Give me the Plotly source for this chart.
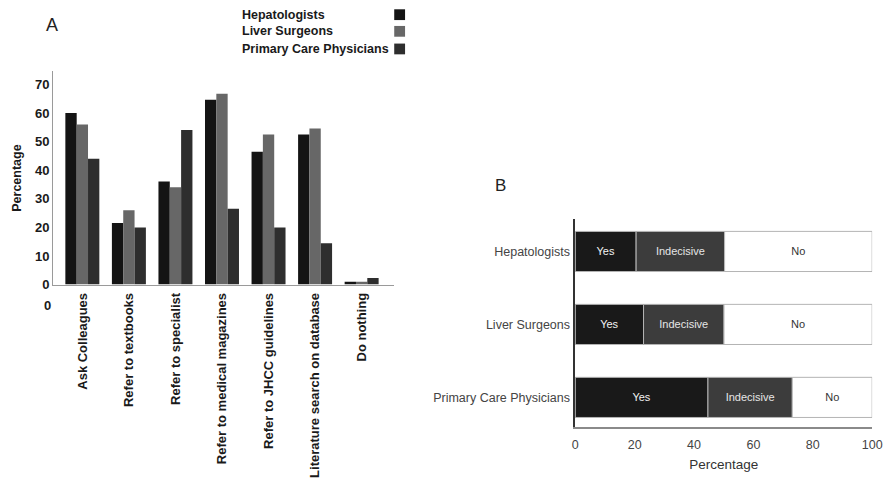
import numpy as np
import plotly.graph_objects as go

# Panel A: sources consulted when unsure (percentage of respondents)
sources = ["Ask Colleagues", "Refer to textbooks", "Refer to specialist",
           "Refer to medical magazines", "Refer to JHCC guidelines",
           "Literature search on database", "Do nothing"]
hepatologists = [60, 21.5, 36, 64.6, 46.4, 52.5, 1]
liver_surgeons = [56, 26, 34, 66.7, 52.5, 54.6, 1]
primary_care = [44, 20, 54, 26.5, 20, 14.5, 2.3]

# Panel B: agreement by specialty (percentage)
groups = ["Hepatologists", "Liver Surgeons", "Primary Care Physicians"]
yes_pct = [20.5, 23, 44.7]
indecisive_pct = [29.8, 27.1, 28.4]
no_pct = [49.7, 49.9, 26.9]

W, H = 893, 478
px = lambda x: x / W
py = lambda y: 1 - y / H

series_a = [("Hepatologists", hepatologists, "#141414"),
            ("Liver Surgeons", liver_surgeons, "#676767"),
            ("Primary Care Physicians", primary_care, "#2e2e2e")]

fig = go.Figure()
for name, vals, col in series_a:
    fig.add_trace(go.Bar(x=sources, y=vals, name=name, marker_color=col,
                         marker_line_width=0, offsetgroup=name,
                         xaxis="x", yaxis="y", showlegend=False))

# Stacked horizontal bars built from cumulative bases
segments = [("Yes", yes_pct, "#191919", "#f2f2f2"),
            ("Indecisive", indecisive_pct, "#3c3c3c", "#e6e6e6"),
            ("No", no_pct, "#ffffff", "#333333")]
base = np.zeros(len(groups))
for label, vals, col, tcol in segments:
    vals = np.array(vals, dtype=float)
    fig.add_trace(go.Bar(y=groups, x=vals, base=base.copy(), orientation="h",
                         name=label, offsetgroup="B", width=0.55,
                         marker=dict(color=col, line=dict(color="#b4b4b4", width=1)),
                         text=[label] * len(groups), textposition="inside",
                         insidetextanchor="middle",
                         textfont=dict(family="Liberation Sans, Arial", size=11, color=tcol),
                         xaxis="x2", yaxis="y2", showlegend=False))
    base = base + vals

fig.update_layout(
    width=W, height=H, margin=dict(l=0, r=0, t=0, b=0),
    paper_bgcolor="white", plot_bgcolor="white",
    barmode="group", bargap=0.27, bargroupgap=0,
    font=dict(family="Liberation Sans, Arial", color="#222"),
    xaxis=dict(domain=[px(51), px(397)], range=[-0.625, 6.7],
               showline=True, linecolor="#9a9a9a", linewidth=1.2,
               showgrid=False, zeroline=False, ticks="", tickangle=-90,
               ticklabelstandoff=2,
               tickfont=dict(size=13, weight="bold", color="#1a1a1a")),
    yaxis=dict(domain=[py(290.7), py(73)], range=[0, 74.5],
               showline=True, linecolor="#9a9a9a", linewidth=1.2,
               showgrid=False, zeroline=False, ticks="", dtick=10,
               tickfont=dict(size=13, weight="bold", color="#1a1a1a"),
               title=dict(text="Percentage", standoff=10,
                          font=dict(size=12.5, weight="bold", color="#1a1a1a"))),
    xaxis2=dict(domain=[px(580.7), px(882)], range=[0, 100],
                anchor="y2", showline=True, linecolor="#8a8a8a", linewidth=1.5,
                showgrid=False, zeroline=False, ticks="", dtick=20,
                ticklabelstandoff=6,
                tickfont=dict(size=12.5, color="#444"),
                title=dict(text="Percentage", standoff=8,
                           font=dict(size=13.5, color="#333"))),
    yaxis2=dict(domain=[py(435.7), py(223.3)], range=[2.4, -0.45],
                anchor="x2", showline=True, linecolor="#333", linewidth=1.5,
                showgrid=False, zeroline=False, ticks="",
                ticklabelstandoff=1,
                tickfont=dict(size=12.5, color="#444")),
)

# Panel letters and stray axis label
fig.add_annotation(x=px(50), y=py(26), xref="paper", yref="paper", text="A",
                   xanchor="center", yanchor="middle",
                   showarrow=False, font=dict(size=18, color="#222"))
fig.add_annotation(x=px(505), y=py(189), xref="paper", yref="paper", text="B",
                   xanchor="center", yanchor="middle",
                   showarrow=False, font=dict(size=17, color="#222"))
fig.add_annotation(x=px(45), y=py(312), xref="paper", yref="paper", text="0",
                   xanchor="center", yanchor="middle",
                   showarrow=False, font=dict(size=13, weight="bold", color="#1a1a1a"))

# Legend for panel A: label on the left, swatch on the right
legend_rows = [15, 32, 50]
for (name, _, col), yc in zip(series_a, legend_rows):
    fig.add_annotation(x=px(240), y=py(yc), xref="paper", yref="paper", text=name,
                       showarrow=False, xanchor="left", yanchor="middle",
                       font=dict(size=12.5, weight="bold", color="#1a1a1a"))
    fig.add_shape(type="rect", xref="paper", yref="paper",
                  x0=px(397), x1=px(408), y0=py(yc + 5.5), y1=py(yc - 5.5),
                  fillcolor=col, line=dict(width=0))

fig.write_html("out.html")
